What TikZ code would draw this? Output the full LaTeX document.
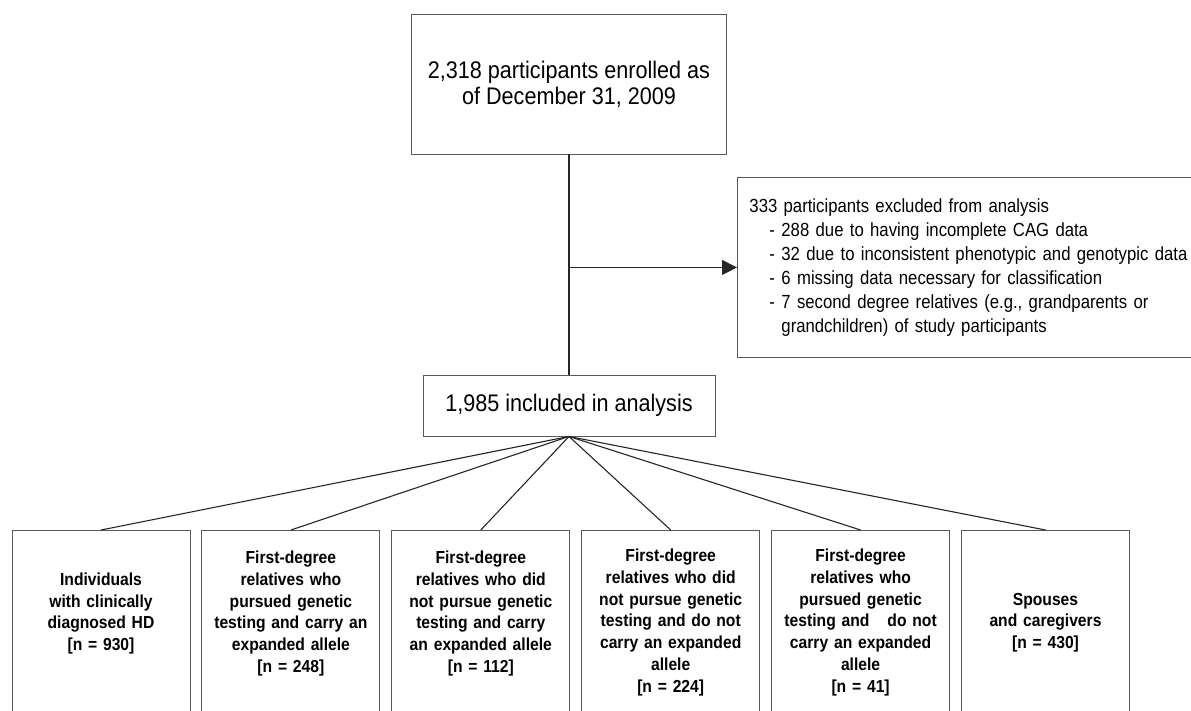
\documentclass[tikz,border=0pt]{standalone}
\usepackage{fontspec}
\setmainfont{Liberation Sans}
\newfontfamily\condfont[FakeStretch=0.9]{Liberation Sans}
\newfontfamily\listfont[FakeStretch=0.88,WordSpace=0.75]{Liberation Sans}
\usetikzlibrary{positioning,arrows.meta}

\newcommand\exitem[1]{\makebox[32pt][l]{\hspace*{20pt}-}#1}

\tikzset{
  flowbox/.style={draw=black!65, line width=0.9pt, fill=white, align=center, inner sep=4pt},
  groupbox/.style={flowbox, minimum height=184pt, text width=170pt,
    font=\condfont\bfseries\fontsize{17.4}{21.7}\selectfont},
  raised/.style={execute at end node={\\\mbox{}}},
  fanline/.style={draw=black!85, line width=1.1pt},
}

\begin{document}
\begin{tikzpicture}[x=1pt,y=1pt,yscale=-1,xscale=1]
\clip (0,0) rectangle (1191,710);
\useasboundingbox (0,0) rectangle (1191,710);

% Top box
\node[flowbox, minimum width=315pt, minimum height=140pt, font=\condfont\fontsize{24}{26}\selectfont] (enrolled) at (569,84) {2,318 participants enrolled as\\of December 31, 2009};
% Included box
\node[flowbox, minimum width=292pt, minimum height=61pt, font=\condfont\fontsize{24}{26}\selectfont] (included) at (569,405.5) {1,985 included in analysis};
% Excluded box
\node[flowbox, anchor=north west, align=left, text width=470pt, inner xsep=12pt, minimum height=180pt, font=\listfont\fontsize{19}{24}\selectfont] (excluded) at (737,177) {333 participants excluded from analysis\\
\exitem{288 due to having incomplete CAG data}\\
\exitem{32 due to inconsistent phenotypic and genotypic data}\\
\exitem{6 missing data necessary for classification}\\
\exitem{7 second degree relatives (e.g., grandparents or}\\
\hspace*{32pt}grandchildren) of study participants};

% Group boxes
\node[groupbox, raised, anchor=north] (clinical) at (101,530) {Individuals\\with clinically\\diagnosed HD\\{[n = 930]}};
\node[groupbox, raised, right=11pt of clinical] (testedcarry) {First-degree\\relatives who\\pursued genetic\\testing and carry an\\expanded allele\\{[n = 248]}};
\node[groupbox, raised, right=11pt of testedcarry] (untestedcarry) {First-degree\\relatives who did\\not pursue genetic\\testing and carry\\an expanded allele\\{[n = 112]}};
\node[groupbox, right=11pt of untestedcarry] (untestednon) {First-degree\\relatives who did\\not pursue genetic\\testing and do not\\carry an expanded\\allele\\{[n = 224]}};
\node[groupbox, right=11pt of untestednon] (testednon) {First-degree\\relatives who\\pursued genetic\\testing and \hspace{0.7em}do not\\carry an expanded\\allele\\{[n = 41]}};
\node[groupbox, text width=160pt, right=11pt of testednon] (spouses) {Spouses\\and caregivers\\{[n = 430]}};

% Connectors
\draw[fanline] (enrolled.south) -- (included.north);
\coordinate (branch) at (enrolled.south |- excluded.west);
\draw[fanline, -{Triangle[length=15pt,width=15pt]}] (branch) -- (excluded.west);
\foreach \grp in {clinical,testedcarry,untestedcarry,untestednon,testednon,spouses}
  \draw[fanline] (included.south) -- (\grp.north);

\end{tikzpicture}
\end{document}
